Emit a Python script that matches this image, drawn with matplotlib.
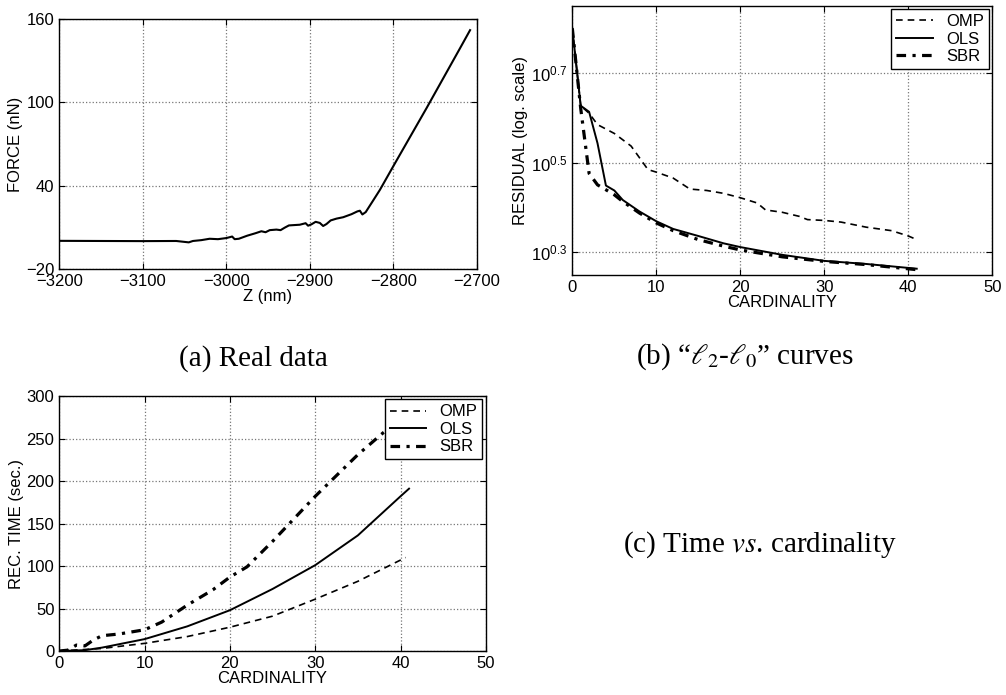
import matplotlib.pyplot as plt
import numpy as np

plt.rcParams['font.family'] = ['Liberation Sans', 'DejaVu Sans']
plt.rcParams['mathtext.fontset'] = 'custom'
plt.rcParams['mathtext.rm'] = 'Liberation Sans'
plt.rcParams['mathtext.it'] = 'Liberation Sans:italic'
plt.rcParams['font.size'] = 12

# (a) force curve, real data
z_nm = [-3200, -3150, -3100, -3060, -3045, -3040, -3030, -3020, -3010, -3000,
        -2993, -2990, -2985, -2975, -2965, -2958, -2953, -2948, -2940, -2935,
        -2930, -2925, -2920, -2912, -2905, -2902, -2898, -2893, -2888, -2884,
        -2880, -2875, -2868, -2860, -2850, -2843, -2840, -2837, -2833, -2825,
        -2816, -2800, -2760, -2720, -2708]
force_nN = [0.3, 0.2, 0.1, 0.2, -0.8, 0.2, 0.8, 1.8, 1.5, 2.3,
            3.4, 1.5, 1.8, 4.0, 5.8, 7.2, 6.5, 8.0, 8.4, 8.0,
            9.8, 11.4, 11.6, 11.9, 13.0, 11.2, 12.2, 14.0, 13.2, 11.0,
            12.4, 15.0, 16.3, 17.3, 19.5, 21.5, 22.0, 19.3, 21.0, 28.5,
            37.0, 54.0, 96.0, 139.0, 152.0]

# (b) residual vs cardinality
card_ols = [0, 1, 2, 3, 4, 5, 6, 8, 10, 12, 15, 18, 20, 25, 30, 35, 41]
res_ols = [6.29, 4.23, 4.10, 3.49, 2.81, 2.74, 2.61, 2.46, 2.34, 2.25,
           2.17, 2.09, 2.05, 1.97, 1.91, 1.88, 1.835]
card_omp = [0, 1, 2, 3, 5, 7, 8, 9, 10, 12, 14, 16, 18, 20, 22, 23, 25, 27,
            28, 30, 32, 35, 38, 40, 41]
res_omp = [6.29, 4.23, 4.07, 3.84, 3.67, 3.44, 3.24, 3.05, 3.01, 2.92, 2.76,
           2.74, 2.70, 2.64, 2.57, 2.48, 2.45, 2.40, 2.36, 2.35, 2.33, 2.27,
           2.23, 2.17, 2.13]
card_sbr = [0, 1, 2, 3, 4, 5, 6, 8, 10, 12, 15, 18, 20, 25, 30, 35, 41]
res_sbr = [6.29, 4.17, 2.99, 2.82, 2.75, 2.68, 2.59, 2.44, 2.32, 2.23,
           2.13, 2.06, 2.02, 1.95, 1.905, 1.874, 1.826]

# (c) reconstruction time vs cardinality
card_t_omp = [0, 5, 10, 15, 20, 25, 30, 35, 40, 40.6]
time_omp = [0, 3, 9, 17, 28, 41, 61, 82, 107, 110]
card_t_ols = [0, 3, 5, 10, 15, 20, 25, 30, 35, 40, 41]
time_ols = [0, 1, 4, 14, 29, 48, 73, 101, 136, 182, 191]
card_t_sbr = [0, 1, 2, 3, 4, 5, 7, 10, 12, 15, 18, 20, 22, 25, 30, 35, 38, 41]
time_sbr = [0, 1, 7, 6, 13, 18, 20, 25, 34, 54, 72, 87, 99, 129, 182, 231, 257, 280]

methods = ['OMP', 'OLS', 'SBR']

omp_style = dict(color='black', linestyle=(0, (4, 3)), linewidth=1.2)
ols_style = dict(color='black', linestyle='-', linewidth=1.4)
sbr_style = dict(color='black', linestyle=(0, (3, 2, 1, 2)), linewidth=2.3)


def style_axes(ax):
    ax.grid(True, linestyle=':', color='#777777', linewidth=0.9)
    ax.tick_params(direction='in', top=True, right=True, length=4, labelsize=12)
    for s in ax.spines.values():
        s.set_linewidth(1.0)


fig = plt.figure(figsize=(10.06, 6.95), dpi=100)

# panel (a)
ax1 = fig.add_axes([0.0590, 0.6129, 0.4149, 0.3597])
ax1.plot(z_nm, force_nN, color='black', linewidth=1.5)
ax1.set_xlim(-3200, -2700)
ax1.set_ylim(-20, 160)
ax1.set_yticks([-20, 40, 100, 160])
ax1.set_xticks([-3200, -3100, -3000, -2900, -2800, -2700])
ax1.set_xticklabels(['\u22123200', '\u22123100', '\u22123000', '\u22122900', '\u22122800', '\u22122700'])
ax1.set_yticklabels(['\u221220', '40', '100', '160'])
ax1.set_xlabel('Z (nm)', labelpad=0)
ax1.set_ylabel('FORCE (nN)', labelpad=2)
style_axes(ax1)

# panel (b)
ax2 = fig.add_axes([0.5689, 0.6043, 0.4175, 0.3875])
ax2.plot(card_omp, res_omp, label=methods[0], **omp_style)
ax2.plot(card_ols, res_ols, label=methods[1], **ols_style)
ax2.plot(card_sbr, res_sbr, label=methods[2], **sbr_style)
ax2.set_yscale('log')
ax2.set_xlim(0, 50)
ax2.set_ylim(10 ** 0.2496, 10 ** 0.849)
ax2.set_yticks([10 ** 0.3, 10 ** 0.5, 10 ** 0.7])
ax2.set_yticklabels([r'$10^{0.3}$', r'$10^{0.5}$', r'$10^{0.7}$'])
ax2.yaxis.set_minor_locator(plt.NullLocator())
ax2.set_xticks([0, 10, 20, 30, 40, 50])
ax2.set_xlabel('CARDINALITY', labelpad=0)
ax2.set_ylabel('RESIDUAL (log. scale)', labelpad=2)
style_axes(ax2)
ax2.legend(loc='upper right', fancybox=False, framealpha=1, edgecolor='black',
           borderaxespad=0.2, handlelength=2.2, borderpad=0.3, labelspacing=0.15,
           fontsize=12).get_frame().set_linewidth(1.0)

# panel (c)
ax3 = fig.add_axes([0.0590, 0.0633, 0.4239, 0.3669])
ax3.plot(card_t_omp, time_omp, label=methods[0], **omp_style)
ax3.plot(card_t_ols, time_ols, label=methods[1], **ols_style)
ax3.plot(card_t_sbr, time_sbr, label=methods[2], **sbr_style)
ax3.set_xlim(0, 50)
ax3.set_ylim(0, 300)
ax3.set_xticks([0, 10, 20, 30, 40, 50])
ax3.set_yticks([0, 50, 100, 150, 200, 250, 300])
ax3.set_xlabel('CARDINALITY', labelpad=0)
ax3.set_ylabel('REC. TIME (sec.)', labelpad=2)
style_axes(ax3)
ax3.legend(loc='upper right', fancybox=False, framealpha=1, edgecolor='black',
           borderaxespad=0.2, handlelength=2.2, borderpad=0.3, labelspacing=0.15,
           fontsize=12).get_frame().set_linewidth(1.0)

# captions
cap = dict(fontsize=21, family=['Liberation Serif', 'DejaVu Serif'],
           ha='center', va='center', math_fontfamily='stix')
fig.text(253 / 1006, 1 - 359 / 695, '(a) Real data', **cap)
fig.text(745 / 1006, 1 - 357 / 695, '(b) \u201c$\\ell_2$-$\\ell_0$\u201d curves', **cap)
fig.text(760 / 1006, 1 - 545 / 695, r'(c) Time $vs$. cardinality', **cap)

plt.savefig('out.png', dpi=100)
